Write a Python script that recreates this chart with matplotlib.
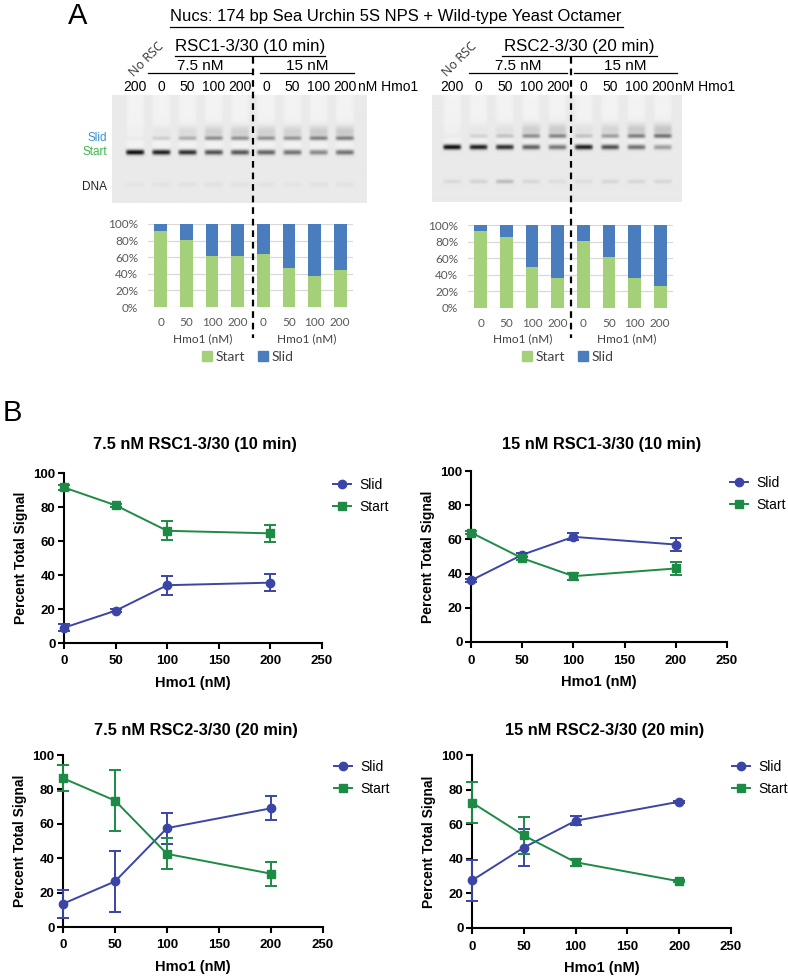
"""
Hmo1 / RSC sliding figure: (A) native gels + stacked-bar quantification,
(B) percent total signal vs Hmo1 for the four RSC conditions.
"""
import numpy as np
import matplotlib
matplotlib.use("Agg")
import matplotlib.pyplot as plt
from matplotlib.patches import Patch

W, H = 788, 977

# ---------------------------------------------------------------- data
HMO1 = [0, 50, 100, 200]
BAR_LABELS = ["0", "50", "100", "200", "0", "50", "100", "200"]
GEL_LANE_LABELS = ["200", "0", "50", "100", "200", "0", "50", "100", "200"]

# panel A stacked bars: fraction "Start" (rest is "Slid"), 7.5 nM then 15 nM
BAR1_START = [0.92, 0.81, 0.62, 0.61, 0.64, 0.47, 0.37, 0.45]
BAR2_START = [0.93, 0.86, 0.49, 0.36, 0.81, 0.61, 0.36, 0.26]

# gel band darkness per lane (No RSC, 7.5 nM x4, 15 nM x4)
GEL1_START = [1.00, 0.92, 0.85, 0.70, 0.68, 0.62, 0.55, 0.45, 0.55]
GEL1_SLID = [0.05, 0.22, 0.42, 0.62, 0.60, 0.60, 0.58, 0.70, 0.72]
GEL1_DNA = [0.04, 0.05, 0.06, 0.06, 0.05, 0.05, 0.04, 0.06, 0.05]
GEL2_START = [1.00, 0.92, 0.85, 0.62, 0.52, 0.92, 0.70, 0.55, 0.35]
GEL2_SLID = [0.05, 0.20, 0.30, 0.62, 0.68, 0.30, 0.52, 0.72, 0.80]
GEL2_DNA = [0.10, 0.14, 0.30, 0.12, 0.08, 0.08, 0.12, 0.12, 0.12]

# panel B: mean and error (percent total signal)
TITLES = ["7.5 nM RSC1-3/30 (10 min)", "15 nM RSC1-3/30 (10 min)",
          "7.5 nM RSC2-3/30 (20 min)", "15 nM RSC2-3/30 (20 min)"]
SLID = [[9, 19, 34, 35.5], [36, 51, 61.5, 57],
        [13.5, 26.5, 57.5, 69], [27.5, 46.5, 62, 73]]
SLID_ERR = [[2, 1, 5.5, 5], [1, 1, 2, 4],
            [8, 17.5, 9, 7], [12, 10.5, 2.5, 0.5]]
START = [[91.5, 81, 66, 64.5], [64, 49, 38.5, 43],
         [86.5, 73.5, 42.5, 31], [72.5, 53.5, 38, 27]]
START_ERR = [[1.5, 1, 5.5, 5], [1, 1, 2, 4],
             [7.5, 17.5, 9, 7], [12, 10.5, 2, 0.5]]

SLID_C = "#3a45a5"
START_C = "#1d8a45"
BAR_GREEN = "#a5d07a"
BAR_BLUE = "#4a7dbd"
SANS = "Liberation Sans"
EXCEL = "Lato"

fig = plt.figure(figsize=(W / 100, H / 100), dpi=100)


def axes_px(x0, y0, x1, y1, **kw):
    return fig.add_axes([x0 / W, 1 - y1 / H, (x1 - x0) / W, (y1 - y0) / H], **kw)


def fx(x):
    return x / W


def fy(y):
    return 1 - y / H


# ---------------------------------------------------------------- gels
def gel_image(start, slid, dna, lane0, lane1, y_start, y_slid, y_dna,
              nx=500, ny=220):
    xs = np.linspace(0, 1, nx)
    ys = np.linspace(0, 1, ny)
    X, Y = np.meshgrid(xs, ys)
    img = np.full((ny, nx), 0.915)
    centers = np.linspace(lane0, lane1, len(start))
    half = 0.036
    for i, cx in enumerate(centers):
        lane = np.exp(-((X - cx) / half) ** 8)
        img += 0.035 * lane * (Y < y_start)
        img -= 0.88 * start[i] * lane * np.exp(-((Y - y_start) / 0.024) ** 2)
        img -= 0.55 * slid[i] * lane * np.exp(-((Y - y_slid) / 0.020) ** 2)
        img -= 0.22 * slid[i] * lane * np.exp(-((Y - y_slid + 0.06) / 0.06) ** 2)
        img -= 0.6 * dna[i] * lane * np.exp(-((Y - y_dna) / 0.02) ** 2)
    return np.clip(img, 0, 1)


ov = axes_px(0, 0, W, H, facecolor="none", zorder=5)
ov.set_axis_off()

img1 = gel_image(GEL1_START, GEL1_SLID, GEL1_DNA, 0.09, 0.914, 0.53, 0.40, 0.83)
img2 = gel_image(GEL2_START, GEL2_SLID, GEL2_DNA, 0.08, 0.924, 0.486, 0.383, 0.81)
ov.imshow(img1, cmap="gray", vmin=0, vmax=1, extent=(112, 367, 203, 95),
          aspect="auto", interpolation="bilinear")
ov.imshow(img2, cmap="gray", vmin=0, vmax=1, extent=(432, 682, 202, 95),
          aspect="auto", interpolation="bilinear")
ov.set_xlim(0, W)
ov.set_ylim(H, 0)

ov.text(78, 16, "A", fontsize=21, family=SANS, ha="center", va="center")
ov.text(12, 413, "B", fontsize=21, family=SANS, ha="center", va="center")

ov.text(396, 16, "Nucs: 174 bp Sea Urchin 5S NPS + Wild-type Yeast Octamer",
        fontsize=12, family=SANS, ha="center", va="center")
ov.plot([170, 623], [27, 27], color="black", lw=0.9)

for (x0, x1, name, xs_lanes, half1, half2, div, nm_x, norsc) in [
        (175, 325, "RSC1-3/30 (10 min)", (135, 345), (148, 252), (260, 354),
         253, 358, (134, 77)),
        (502, 657, "RSC2-3/30 (20 min)", (452, 663), (469, 567), (574, 677),
         571, 675, (447, 77))]:
    ov.text((x0 + x1) / 2, 47, name, fontsize=12.2, family=SANS,
            ha="center", va="center")
    ov.plot([x0, x1], [56, 56], color="black", lw=0.9)
    ov.text(sum(half1) / 2, 66, "7.5 nM", fontsize=11, family=SANS,
            ha="center", va="center")
    ov.text(sum(half2) / 2, 66, "15 nM", fontsize=11, family=SANS,
            ha="center", va="center")
    ov.plot(half1, [73, 73], color="black", lw=0.9)
    ov.plot(half2, [73, 73], color="black", lw=0.9)
    for lx, lab in zip(np.linspace(xs_lanes[0], xs_lanes[1], 9), GEL_LANE_LABELS):
        ov.text(lx, 87, lab, fontsize=10, family=SANS, ha="center", va="center")
    ov.text(nm_x, 87, "nM Hmo1", fontsize=10, family=SANS, ha="left", va="center")
    ov.text(norsc[0], norsc[1], "No RSC", fontsize=9, family="Open Sans",
            rotation=45, rotation_mode="anchor", ha="left", va="baseline",
            color="#333333")
    ov.plot([div, div], [57, 338], color="black", lw=1.6, ls=(0, (3, 2.2)))

ov.text(107, 138, "Slid", fontsize=8.5, family=SANS, color="#3d8fd1",
        ha="right", va="center")
ov.text(107, 152, "Start", fontsize=8.5, family=SANS, color="#3cb54a",
        ha="right", va="center")
ov.text(107, 187, "DNA", fontsize=8.5, family=SANS, color="#222222",
        ha="right", va="center")

# ---------------------------------------------------------------- stacked bars
for (box, start_frac, grp_x, leg_x) in [
        ((148, 224, 353, 307), BAR1_START, (203, 307), 195),
        ((468, 225, 673, 308), BAR2_START, (523, 627), 515)]:
    ax = axes_px(*box, facecolor="none")
    pos = np.arange(len(start_frac))
    start_frac = np.array(start_frac)
    ax.bar(pos, start_frac, width=0.5, color=BAR_GREEN, zorder=3)
    ax.bar(pos, 1 - start_frac, bottom=start_frac, width=0.5,
           color=BAR_BLUE, zorder=3)
    ax.set_xlim(-0.5, len(pos) - 0.5)
    ax.set_ylim(0, 1)
    ax.set_yticks(np.arange(0, 1.01, 0.2))
    ax.set_yticklabels([f"{int(round(v * 100))}%" for v in np.arange(0, 1.01, 0.2)])
    ax.set_xticks(pos)
    ax.set_xticklabels(BAR_LABELS)
    ax.grid(axis="y", color="#d9d9d9", lw=0.9, zorder=0)
    for s in ax.spines.values():
        s.set_visible(False)
    ax.tick_params(length=0, labelsize=8.5, labelcolor="#595959", pad=7)
    for t in ax.get_xticklabels() + ax.get_yticklabels():
        t.set_family(EXCEL)
    for gx in grp_x:
        ov.text(gx, 339, "Hmo1 (nM)", fontsize=8.5, family=EXCEL,
                color="#404040", ha="center", va="center")
    ax.legend(handles=[Patch(color=BAR_GREEN), Patch(color=BAR_BLUE)],
              labels=["Start", "Slid"], ncol=2, loc="center left",
              bbox_to_anchor=(fx(leg_x), fy(357)), bbox_transform=fig.transFigure,
              frameon=False, borderpad=0, handlelength=0.7, handleheight=0.7,
              handletextpad=0.3, columnspacing=0.9,
              prop={"family": EXCEL, "size": 10}, labelcolor="#404040")

# ---------------------------------------------------------------- line plots
# axes box (px), title centre (px), legend left edge (px)
boxes = [(64, 473, 322, 643), (471, 471, 727, 642),
         (63, 755, 323, 927), (472, 755, 731, 928)]
title_xy = [(195, 444), (602, 444), (196, 731), (605, 731)]
legend_x = [326, 723, 327, 725]
for k, box in enumerate(boxes):
    ax = axes_px(*box)
    l_slid = ax.errorbar(HMO1, SLID[k], yerr=SLID_ERR[k], color=SLID_C,
                         marker="o", ms=6, lw=1.4, capsize=4.5, capthick=1.4,
                         elinewidth=1.4, clip_on=False, zorder=4)
    l_start = ax.errorbar(HMO1, START[k], yerr=START_ERR[k], color=START_C,
                          marker="s", ms=6, lw=1.4, capsize=4.5, capthick=1.4,
                          elinewidth=1.4, clip_on=False, zorder=4)
    ax.set_xlim(0, 250)
    ax.set_ylim(0, 100)
    ax.set_xticks(range(0, 251, 50))
    ax.set_yticks(range(0, 101, 20))
    for s in ["top", "right"]:
        ax.spines[s].set_visible(False)
    for s in ["left", "bottom"]:
        ax.spines[s].set_linewidth(1.5)
    ax.tick_params(width=1.5, length=4, labelsize=9.5)
    ax.tick_params(axis="x", pad=5)
    ax.tick_params(axis="y", pad=2)
    for t in ax.get_xticklabels() + ax.get_yticklabels():
        t.set_family(SANS)
        t.set_fontweight("bold")
    ov.text(title_xy[k][0], title_xy[k][1], TITLES[k], fontsize=11.8,
            family=SANS, fontweight="bold", ha="center", va="center")
    ax.set_xlabel("Hmo1 (nM)", fontsize=10.5, family=SANS, fontweight="bold",
                  labelpad=6)
    ax.set_ylabel("Percent Total Signal", fontsize=10, family=SANS,
                  fontweight="bold", labelpad=4)
    ax.legend(handles=[l_slid[0], l_start[0]], labels=["Slid", "Start"],
              loc="center left", bbox_to_anchor=(fx(legend_x[k]), fy(box[1] + 23)),
              bbox_transform=fig.transFigure, frameon=False, borderpad=0,
              handlelength=1.3, handletextpad=0.6, labelspacing=0.6,
              prop={"family": SANS, "size": 10})

fig.savefig("out.png", dpi=100, facecolor="white")
